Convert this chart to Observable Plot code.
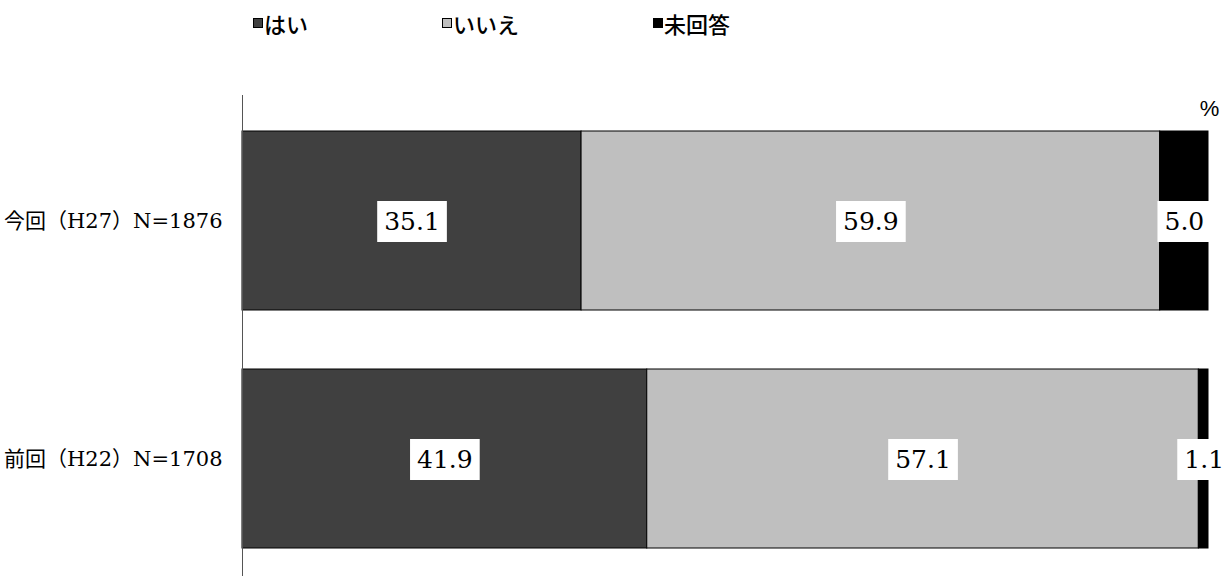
<!DOCTYPE html>
<html>
<head>
<meta charset="utf-8">
<script src="https://cdn.jsdelivr.net/npm/d3@7"></script>
<script src="https://cdn.jsdelivr.net/npm/@observablehq/plot@0.6"></script>
<style>
  html, body { margin: 0; padding: 0; background: #fff; }
  #wrap { width: 1224px; height: 576px; position: relative; overflow: hidden; }
  #legend { position: relative; height: 50px; width: 1224px; font-family: "Noto Sans CJK JP", sans-serif; font-size: 22px; font-weight: 500; color: #000; }
  .item { position: absolute; top: 9px; height: 28px; display: flex; align-items: center; line-height: 28px; }
  .sw { display: inline-block; width: 8px; height: 8px; border: 1px solid #000; margin-right: 1px; margin-top: 0px; }
  #chart svg { display: block; }
</style>
</head>
<body>
<div id="wrap">
  <div id="legend"></div>
  <div id="chart"></div>
</div>
<script>
// ---- data ----
const categories = ["今回（H27）N=1876", "前回（H22）N=1708"];
const responses = ["はい", "いいえ", "未回答"];
const hai = [35.1, 41.9];
const iie = [59.9, 57.1];
const mikaitou = [5.0, 1.1];
const colors = ["#404040", "#bfbfbf", "#000000"];
const legendX = [253, 442, 653];

const series = [hai, iie, mikaitou];
const rows = [];
categories.forEach((c, i) => {
  responses.forEach((r, j) => {
    rows.push({cat: c, resp: r, value: series[j][i]});
  });
});

// ---- legend ----
const legend = document.getElementById("legend");
responses.forEach((r, j) => {
  const it = document.createElement("div");
  it.className = "item";
  it.style.left = legendX[j] + "px";
  const sw = document.createElement("span");
  sw.className = "sw";
  sw.style.background = colors[j];
  it.appendChild(sw);
  const t = document.createElement("span");
  t.textContent = r;
  it.appendChild(t);
  legend.appendChild(it);
});

// ---- chart ----
const plot = Plot.plot({
  width: 1224,
  height: 526,
  marginTop: 45,
  marginBottom: 0,
  marginLeft: 242,
  marginRight: 16,
  style: {background: "#fff"},
  x: {domain: [0, 100], clamp: true, axis: null},
  y: {type: "band", domain: categories, paddingInner: 0.247, paddingOuter: 0.13, align: 0.565, label: null, tickSize: 0, tickPadding: 20},
  color: {domain: responses, range: colors},
  marks: [
    Plot.barX(rows, Plot.stackX({x: "value", y: "cat", fill: "resp", stroke: "#000", strokeWidth: 1, order: null})),
    Plot.text(rows, Plot.stackX({x: "value", y: "cat", z: "resp", order: null, text: d => d.value.toFixed(1),
      fill: "#000", fontSize: 25, fontFamily: "DejaVu Serif, serif", textAnchor: "middle", lineAnchor: "middle", dy: 1})),
    Plot.text(["%"], {frameAnchor: "top-right", text: d => d, dx: 1, dy: 13, textAnchor: "middle", lineAnchor: "middle", fontSize: 22, fontFamily: "'Liberation Sans Narrow', 'Liberation Sans', sans-serif"}),
    Plot.ruleX([0], {stroke: "#555", strokeWidth: 1}),
    Plot.axisY({tickSize: 0, tickPadding: 20, fontSize: 21, fontFamily: "DejaVu Serif, 'Noto Sans CJK JP', serif", label: null, fill: "#000"})
  ]
});
document.getElementById("chart").appendChild(plot);

// white boxes behind the value labels (sized from the rendered text)
const textGroups = plot.querySelectorAll('g[aria-label="text"]');
if (textGroups.length) {
  const g = textGroups[0];
  g.querySelectorAll("text").forEach(t => {
    const b = t.getBBox();
    const rect = document.createElementNS("http://www.w3.org/2000/svg", "rect");
    const px = 7, py = 6;
    rect.setAttribute("x", b.x - px);
    rect.setAttribute("y", b.y - py);
    rect.setAttribute("width", b.width + 2 * px);
    rect.setAttribute("height", b.height + 2 * py);
    rect.setAttribute("fill", "#fff");
    rect.setAttribute("stroke", "none");
    const tr = t.getAttribute("transform");
    if (tr) rect.setAttribute("transform", tr);
    t.parentNode.insertBefore(rect, t);
  });
}
</script>
</body>
</html>
